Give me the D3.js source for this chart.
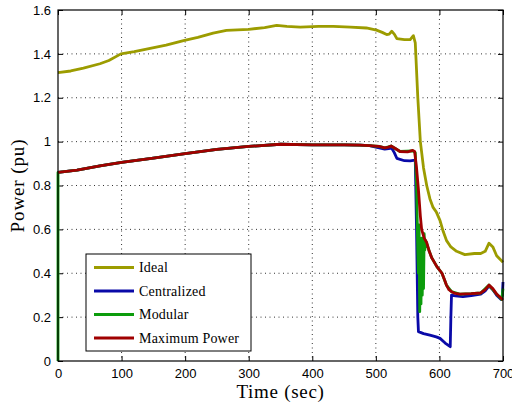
<!DOCTYPE html>
<html>
<head>
<meta charset="utf-8">
<script src="https://cdn.jsdelivr.net/npm/d3@7"></script>
<style>
body { margin: 0; background: #fff; }
svg { display: block; }
</style>
</head>
<body>
<svg width="512" height="404"></svg>
<script>
// data: [time (sec), power (pu)]
var xTicks = [0, 100, 200, 300, 400, 500, 600, 700];
var yTicks = [0, 0.2, 0.4, 0.6, 0.8, 1, 1.2, 1.4, 1.6];
var seriesNames = ['Ideal', 'Centralized', 'Modular', 'Maximum Power'];
var seriesColors = ['#9c9c00', '#0a0aa8', '#0c9c0c', '#a00000'];

var ideal = [[0,1.315],[20,1.322],[40,1.335],[66,1.355],[80,1.37],[99,1.40],[120,1.41],[145,1.425],
  [170,1.44],[199,1.462],[220,1.475],[244,1.495],[265,1.507],[300,1.512],[325,1.52],[344,1.53],
  [360,1.525],[381,1.522],[410,1.525],[433,1.525],[460,1.522],[485,1.518],[501,1.508],[510,1.498],
  [517,1.488],[521,1.49],[525,1.503],[529,1.49],[533,1.47],[545,1.465],[554,1.465],[559,1.483],
  [562,1.45],[566,1.2],[570,1.0],[575,0.88],[580,0.8],[585,0.74],[590,0.70],[595,0.68],[601,0.64],
  [606,0.59],[611,0.55],[618,0.52],[627,0.50],[640,0.485],[655,0.49],[665,0.49],[672,0.50],
  [678,0.537],[684,0.52],[690,0.48],[700,0.45]];

// common start of the three lower curves
var commonRise = [[0,0.86],[30,0.87],[66,0.889],[100,0.905],[150,0.925],[200,0.945],[250,0.965],
  [300,0.978],[350,0.988],[400,0.985],[450,0.985],[475,0.984],[490,0.982]];

var maxPowerTail = [[505,0.978],[514,0.972],[520,0.975],[524,0.98],[530,0.97],[538,0.955],[550,0.953],
  [558,0.96],[561,0.955],[564,0.88],[567,0.78],[570,0.66],[572,0.60],[576,0.56],[580,0.54],[584,0.50],
  [588,0.47],[596,0.43],[604,0.40],[608,0.37],[611,0.346],[615,0.325],[619,0.316],[625,0.308],
  [632,0.305],[650,0.307],[665,0.31],[672,0.325],[678,0.346],[684,0.33],[690,0.305],[700,0.278]];

var centralizedTail = [[500,0.975],[514,0.966],[520,0.968],[525,0.97],[529,0.95],[533,0.924],
  [545,0.913],[554,0.912],[559,0.915],[562,0.916],[564,0.6],[566,0.2],[567,0.134],[575,0.125],
  [585,0.118],[595,0.11],[601,0.103],[609,0.082],[617,0.065],[618,0.2],[619,0.30],[625,0.297],
  [637,0.293],[650,0.298],[665,0.305],[672,0.32],[678,0.342],[684,0.325],[690,0.30],[697,0.28],
  [699,0.3],[700,0.36]];

var modularTail = [[505,0.978],[514,0.972],[524,0.98],[538,0.955],[558,0.958],[562,0.95],[564,0.8],
  [566,0.5],[567,0.4],[568,0.62],[569,0.225],[570,0.5],[571,0.26],[572,0.56],[573,0.3],[574,0.5],
  [575,0.33],[576,0.58],[577,0.506],[578,0.55],[580,0.535],[584,0.50],[588,0.47],[596,0.43],
  [604,0.40],[611,0.346],[619,0.316],[632,0.305],[650,0.307],[665,0.31],[678,0.346],[690,0.305],
  [698,0.28],[700,0.33]];

var centralized = commonRise.concat(centralizedTail);
var modular = [[0,0]].concat(commonRise, modularTail);
var maxPower = commonRise.concat(maxPowerTail);
var allSeries = [ideal, centralized, modular, maxPower];

var plotL = 58, plotR = 503, plotT = 10, plotB = 361;
var x = d3.scaleLinear().domain([0, 700]).range([plotL, plotR]);
var y = d3.scaleLinear().domain([0, 1.6]).range([plotB, plotT]);

var svg = d3.select('svg');
var tickFont = '"Liberation Sans", Arial, sans-serif';
var serif = '"Liberation Serif", "Times New Roman", serif';

// dotted grid
svg.append('g').selectAll('line').data(xTicks.slice(1, -1)).enter().append('line')
  .attr('x1', d => x(d)).attr('x2', d => x(d)).attr('y1', plotT).attr('y2', plotB)
  .attr('stroke', '#333').attr('stroke-width', 1).attr('stroke-dasharray', '1,3.5');
svg.append('g').selectAll('line').data(yTicks.slice(1, -1)).enter().append('line')
  .attr('y1', d => y(d)).attr('y2', d => y(d)).attr('x1', plotL).attr('x2', plotR)
  .attr('stroke', '#333').attr('stroke-width', 1).attr('stroke-dasharray', '1,3.5');

// axes with inward ticks on all four sides
function styleAxis(g) {
  g.select('.domain').remove();
  g.selectAll('.tick line').attr('stroke', '#000');
  g.selectAll('.tick text').attr('font-family', tickFont).attr('font-size', 13).attr('fill', '#000');
}
svg.append('g').attr('transform', 'translate(0,' + plotB + ')')
  .call(d3.axisBottom(x).tickValues(xTicks).tickSizeInner(-5).tickSizeOuter(0).tickPadding(8).tickFormat(d3.format('d')))
  .call(styleAxis);
svg.append('g').attr('transform', 'translate(0,' + plotT + ')')
  .call(d3.axisTop(x).tickValues(xTicks).tickSizeInner(-5).tickSizeOuter(0).tickFormat(''))
  .call(styleAxis);
svg.append('g').attr('transform', 'translate(' + plotL + ',0)')
  .call(d3.axisLeft(y).tickValues(yTicks).tickSizeInner(-5).tickSizeOuter(0).tickPadding(7).tickFormat(d3.format('~g')))
  .call(styleAxis);
svg.append('g').attr('transform', 'translate(' + plotR + ',0)')
  .call(d3.axisRight(y).tickValues(yTicks).tickSizeInner(-5).tickSizeOuter(0).tickFormat(''))
  .call(styleAxis);

// lines
var line = d3.line().x(d => x(d[0])).y(d => y(d[1]));
svg.append('g').selectAll('path').data(allSeries).enter().append('path')
  .attr('d', line).attr('fill', 'none')
  .attr('stroke', (d, i) => seriesColors[i]).attr('stroke-width', 2.8)
  .attr('stroke-linejoin', 'round');

// frame
svg.append('rect').attr('x', plotL).attr('y', plotT).attr('width', plotR - plotL).attr('height', plotB - plotT)
  .attr('fill', 'none').attr('stroke', '#000').attr('stroke-width', 1.2);

// axis labels
svg.append('text').attr('x', (plotL + plotR) / 2).attr('y', 398).attr('text-anchor', 'middle')
  .attr('font-family', serif).attr('font-size', 19).attr('letter-spacing', 0.7).text('Time (sec)');
svg.append('text').attr('transform', 'translate(24,' + ((plotT + plotB) / 2) + ') rotate(-90)')
  .attr('text-anchor', 'middle').attr('font-family', serif).attr('font-size', 19)
  .attr('letter-spacing', 0.9).text('Power (pu)');

// legend
var lg = svg.append('g');
lg.append('rect').attr('x', 86).attr('y', 254).attr('width', 165).attr('height', 97)
  .attr('fill', '#fff').attr('stroke', '#000').attr('stroke-width', 1);
var rows = lg.selectAll('g').data(seriesNames).enter().append('g')
  .attr('transform', (d, i) => 'translate(0,' + (267.5 + i * 23.5) + ')');
rows.append('line').attr('x1', 94).attr('x2', 134).attr('y1', 0).attr('y2', 0)
  .attr('stroke', (d, i) => seriesColors[i]).attr('stroke-width', 2.8);
rows.append('text').attr('x', 139).attr('y', 4.5).attr('font-family', serif).attr('font-size', 14)
  .attr('letter-spacing', 0.2).text(d => d);
</script>
</body>
</html>
